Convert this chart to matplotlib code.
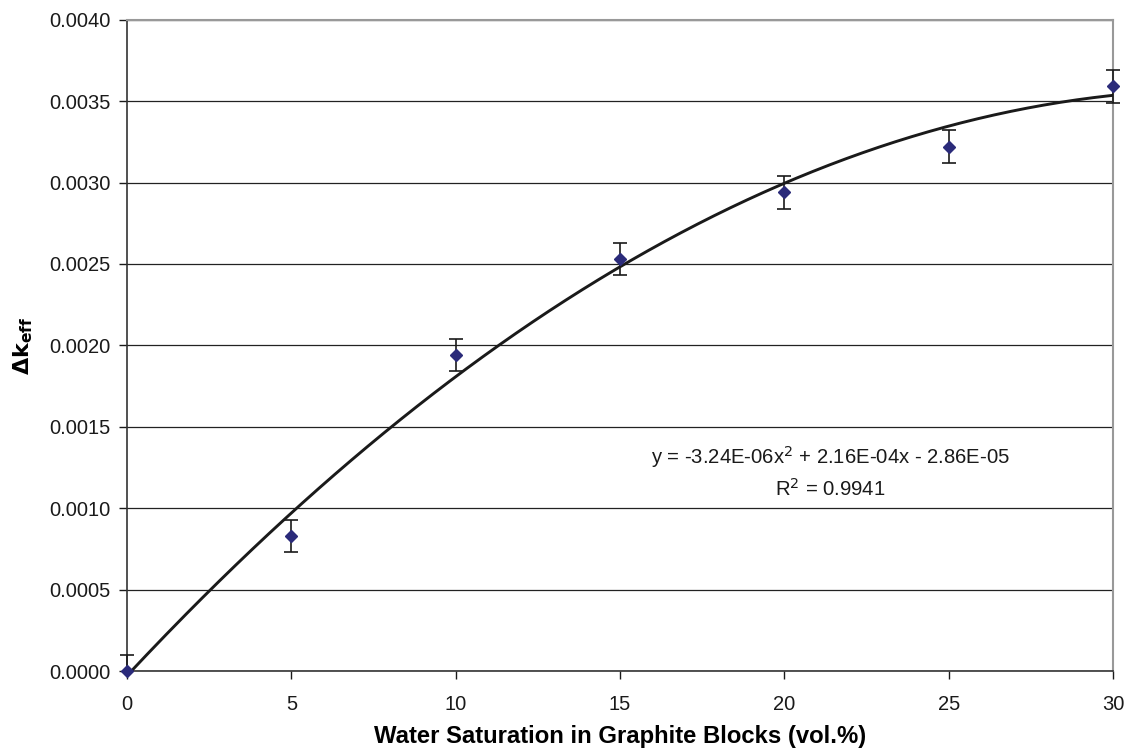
import matplotlib.pyplot as plt
import matplotlib.patches as mpatches
import numpy as np

plt.rcParams['font.family'] = ['Liberation Sans', 'DejaVu Sans']

saturation = [0, 5, 10, 15, 20, 25, 30]
dk_eff = [0.0, 0.00083, 0.00194, 0.00253, 0.00294, 0.00322, 0.00359]
dk_err = [0.0001, 0.0001, 0.0001, 0.0001, 0.0001, 0.0001, 0.0001]
# trendline coefficients as printed on the chart
fit_coef = [-3.24e-06, 2.16e-04, -2.86e-05]

fig = plt.figure(figsize=(11.27, 7.51), dpi=100)
ax = fig.add_axes([0.1127, 0.1065, 0.8749, 0.8673])

ax.yaxis.grid(True, color='#222222', linewidth=0.9)
ax.set_axisbelow(True)

xs = np.linspace(0, 30, 300)
ax.plot(xs, np.polyval(fit_coef, xs), color='#1a1a1a', linewidth=2.1, zorder=3)

eb = ax.errorbar(saturation, dk_eff, yerr=dk_err, fmt='D', color='#2b2b7a',
                 markersize=6, ecolor='#1a1a1a', elinewidth=1.2, capsize=5,
                 capthick=1.2, zorder=4)
# clip vertically at the plot area but let marks spill over left/right edges
clip = mpatches.Rectangle((-0.03, 0), 1.06, 1.05, transform=ax.transAxes,
                          visible=False)
ax.add_patch(clip)
line, caps, bars = eb
line.set_clip_on(False)
for a in list(caps) + list(bars):
    a.set_clip_path(clip)

ax.set_xlim(0, 30)
ax.set_ylim(0, 0.004)
ax.set_xticks(range(0, 31, 5))
ax.set_yticks(np.arange(0, 0.00401, 0.0005))
ax.set_yticklabels(['%.4f' % v for v in np.arange(0, 0.00401, 0.0005)])
ax.tick_params(direction='out', length=6, width=1, labelsize=14.5,
               colors='#1a1a1a', pad=6)
ax.tick_params(axis='x', pad=11)

for side in ['left', 'bottom']:
    ax.spines[side].set_color('#333333')
    ax.spines[side].set_linewidth(1.2)
for side in ['top', 'right']:
    ax.spines[side].set_color('#999999')
    ax.spines[side].set_linewidth(1.5)

ax.set_xlabel('Water Saturation in Graphite Blocks (vol.%)', fontsize=17.2,
              fontweight='bold', labelpad=8)
ax.set_ylabel(r'$\mathbf{\Delta k_{eff}}$', fontsize=16, labelpad=10)

ax.text(0.713, 0.3055, 'y = -3.24E-06x$^2$ + 2.16E-04x - 2.86E-05\nR$^2$ = 0.9941',
        transform=ax.transAxes, ha='center', va='center', fontsize=14.6,
        linespacing=1.4, color='#1a1a1a')

fig.savefig('out.png', dpi=100)
